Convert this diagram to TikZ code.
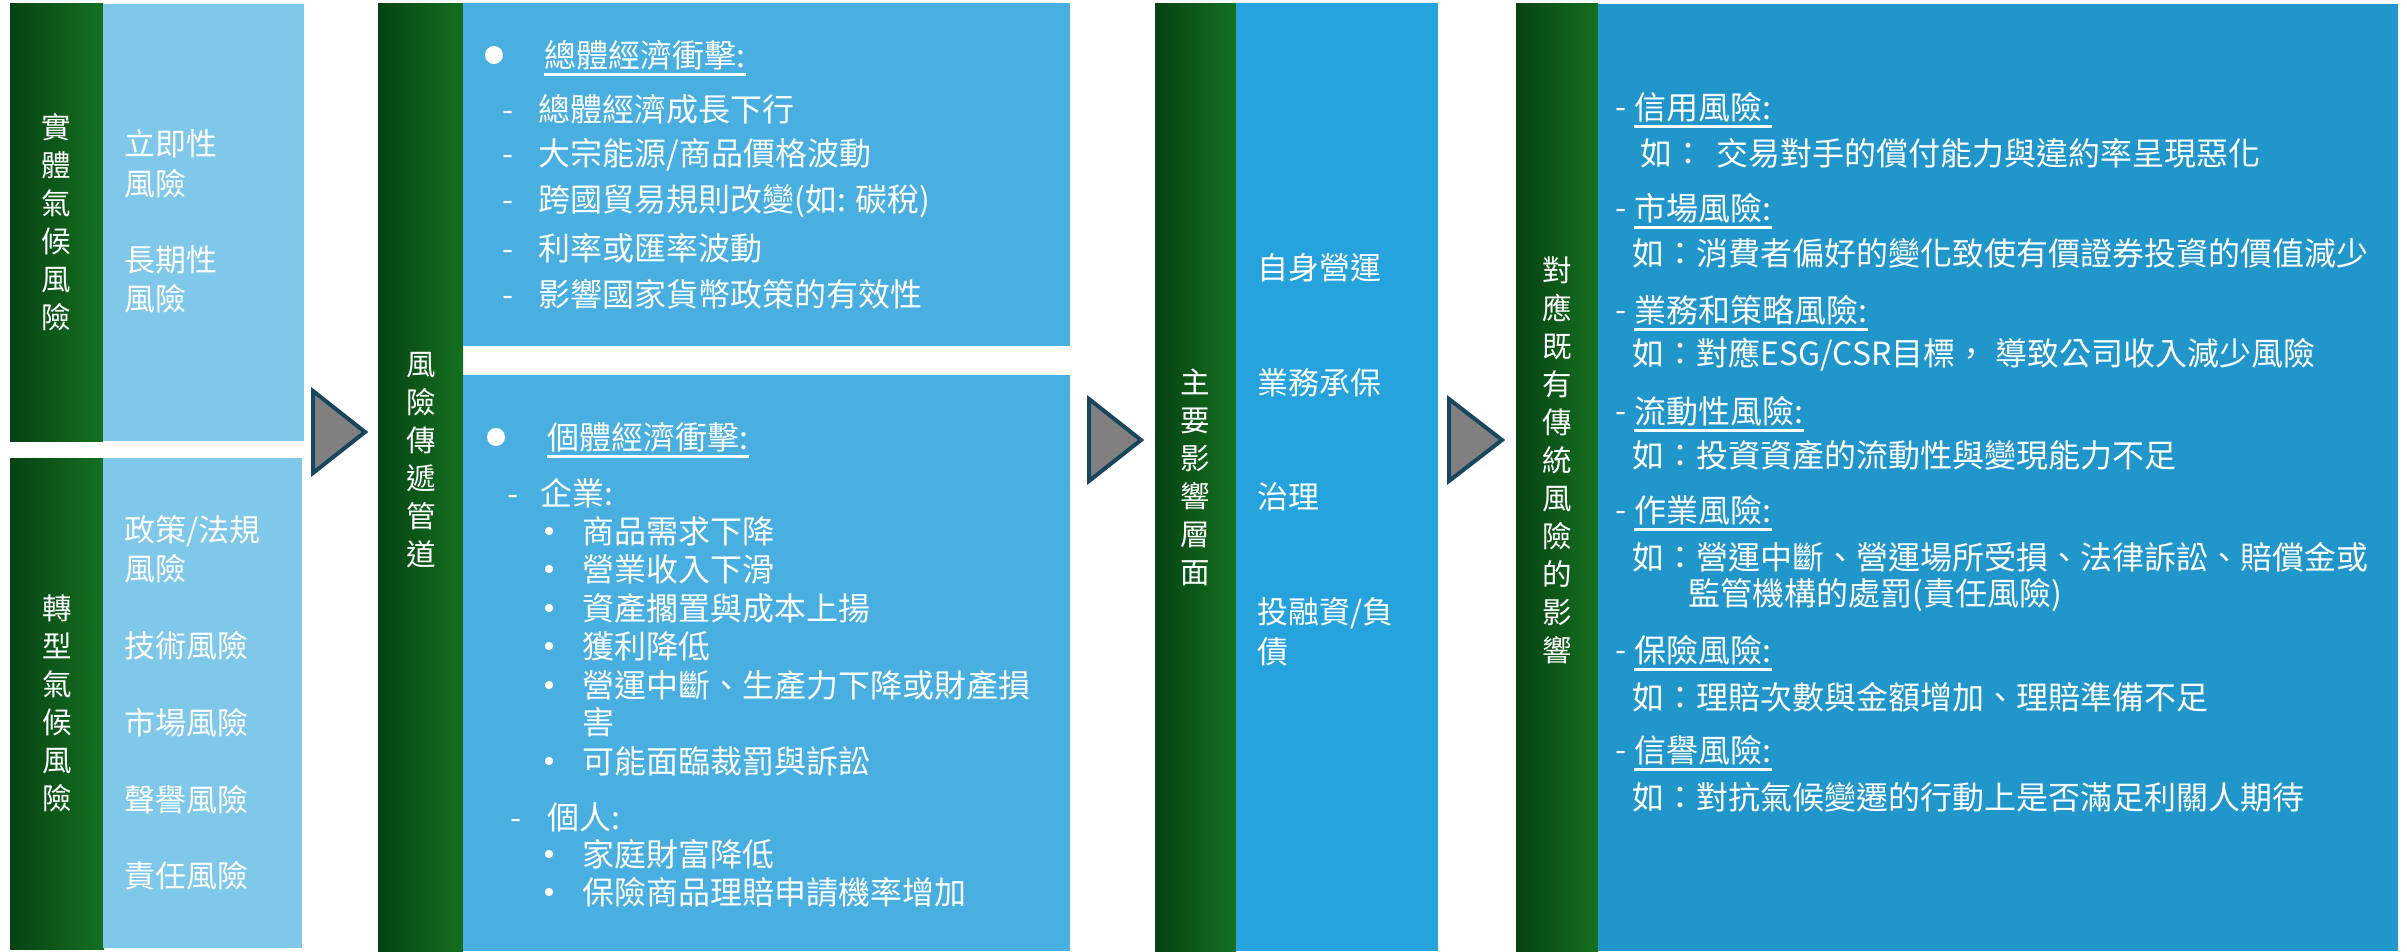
\documentclass[tikz,border=0pt]{standalone}
\usepackage{fontspec}
\newfontfamily\cjk{Noto Sans CJK TC}
\definecolor{gL}{HTML}{064214}
\definecolor{gR}{HTML}{157020}
\definecolor{pA}{HTML}{7FC8E9}
\definecolor{pB}{HTML}{48AFE0}
\definecolor{pC}{HTML}{26A3DC}
\definecolor{pD}{HTML}{2196CB}
\definecolor{triF}{HTML}{808080}
\definecolor{triB}{HTML}{17465E}
\tikzset{
  ta/.style={text=white, inner sep=0pt, anchor=west, font=\cjk\fontsize{8.8pt}{10.6pt}\selectfont},
  tb/.style={text=white, inner sep=0pt, anchor=west, font=\cjk\fontsize{9.1pt}{10.6pt}\selectfont},
  vt/.style={text=white, inner sep=0pt, align=center, font=\cjk\fontsize{8.4pt}{10.81pt}\selectfont},
  gbar/.style={left color=gL, right color=gR},
  tri/.style={fill=triF, draw=triB, line width=0.4mm, line join=miter},
  ul/.style={draw=white, line width=0.3mm},
  bigdot/.style={fill=white, draw=none},
}
\begin{document}
\begin{tikzpicture}[x=0.1mm,y=-0.1mm]
\useasboundingbox (0,0) rectangle (2407,951);
% ---------- panel 1
\shade[gbar] (10,3) rectangle (103,441);
\fill[pA] (103,4) rectangle (304,441);
\shade[gbar] (10,458) rectangle (104,949);
\fill[pA] (103,458) rectangle (302,948);
% ---------- panel 2
\shade[gbar] (378,3) rectangle (463,951);
\fill[pB] (463,3) rectangle (1070,346);
\fill[pB] (463,375) rectangle (1070,951);
% ---------- panel 3
\shade[gbar] (1155,3) rectangle (1236,951);
\fill[pC] (1236,3) rectangle (1438,951);
% ---------- panel 4
\shade[gbar] (1516,3) rectangle (1598,951);
\fill[pD] (1598,4) rectangle (2398,951);
% ---------- arrows
\draw[tri] (313,391) -- (313,473) -- (365,432) -- cycle;
\draw[tri] (1089,399) -- (1089,481) -- (1141,440) -- cycle;
\draw[tri] (1449,399) -- (1449,481) -- (1502,440) -- cycle;
% ---------- vertical titles
\node[vt] (v1) at (56,222) {實\\體\\氣\\候\\風\\險};
\node[vt] (v2) at (57,703) {轉\\型\\氣\\候\\風\\險};
\node[vt] (v3) at (421,460) {風\\險\\傳\\遞\\管\\道};
\node[vt] (v4) at (1195,477) {主\\要\\影\\響\\層\\面};
\node[vt] (v5) at (1557,460) {對\\應\\既\\有\\傳\\統\\風\\險\\的\\影\\響};
% ---------- panel 1 text
\node[ta] (a1) at (124,144) {立即性};
\node[ta] (a2) at (124,184) {風險};
\node[ta] (a3) at (124,260) {長期性};
\node[ta] (a4) at (124,299) {風險};
\node[ta] (b1) at (124,531) {政策/法規};
\node[ta] (b2) at (124,569) {風險};
\node[ta] (b3) at (124,646) {技術風險};
\node[ta] (b4) at (124,723) {市場風險};
\node[ta] (b5) at (124,800) {聲譽風險};
\node[ta] (b6) at (124,876) {責任風險};
% ---------- panel 2 top
\fill[bigdot] (494,55) circle (9);
\node[tb] (m0) at (544,55) {總體經濟衝擊:};
\draw[ul] ([yshift=-1]m0.south west) -- ([yshift=-1]m0.south east);
\node[tb] (m1) at (502,109) {\makebox[3.6mm][l]{-}總體經濟成長下行};
\node[tb] (m2) at (502,155) {\makebox[3.6mm][l]{-}大宗能源/商品價格波動};
\node[tb] (m3) at (502,201) {\makebox[3.6mm][l]{-}跨國貿易規則改變(如: 碳稅)};
\node[tb] (m4) at (502,248) {\makebox[3.6mm][l]{-}利率或匯率波動};
\node[tb] (m5) at (502,294) {\makebox[3.6mm][l]{-}影響國家貨幣政策的有效性};
% ---------- panel 2 bottom
\fill[bigdot] (496,437) circle (9);
\node[tb] (n0) at (547,437) {個體經濟衝擊:};
\draw[ul] ([yshift=-1]n0.south west) -- ([yshift=-1]n0.south east);
\node[tb] (n1) at (507,493) {\makebox[3.3mm][l]{-}企業:};
\foreach \yy/\nm/\tx in {531/n2/商品需求下降, 569/n3/營業收入下滑, 608/n4/資產擱置與成本上揚, 646/n5/獲利降低, 685/n6/營運中斷、生產力下降或財產損, 761/n8/可能面臨裁罰與訴訟, 854/n10/家庭財富降低, 892/n11/保險商品理賠申請機率增加}{
  \fill[bigdot] (549,\yy) circle (4.2);
  \node[tb] (\nm) at (582,\yy) {\tx};
}
\node[tb] (n7) at (582,722) {害};
\node[tb] (n9) at (510,817) {\makebox[3.7mm][l]{-}個人:};
% ---------- panel 3
\node[ta] (c1) at (1257,268) {自身營運};
\node[ta] (c2) at (1257,383) {業務承保};
\node[ta] (c3) at (1257,497) {治理};
\node[ta] (c4) at (1257,613) {投融資/負};
\node[ta] (c5) at (1257,652) {債};
% ---------- panel 4
\foreach \yy/\nm/\tx in {107/r1/信用風險:, 208/r2/市場風險:, 310/r3/業務和策略風險:, 411/r4/流動性風險:, 510/r5/作業風險:, 650/r6/保險風險:, 750/r7/信譽風險:}{
  \node[tb] (\nm d) at (1615,\yy) {-\vphantom{國}};
  \node[tb] (\nm) at (1634,\yy) {\tx};
  \draw[ul] ([yshift=-1]\nm.south west) -- ([yshift=-1]\nm.south east);
}
\node[tb] (e1) at (1640,153) {如：\hspace{1.2mm}交易對手的償付能力與違約率呈現惡化};
\node[tb] (e2) at (1632,253) {如：消費者偏好的變化致使有價證券投資的價值減少};
\node[tb] (e3) at (1632,355) {如：對應ESG/CSR目標，\hspace{0.8mm}導致公司收入減少風險};
\node[tb] (e4) at (1632,455) {如：投資資產的流動性與變現能力不足};
\node[tb] (e5) at (1632,557) {如：營運中斷、營運場所受損、法律訴訟、賠償金或};
\node[tb] (e5b) at (1688,595) {監管機構的處罰(責任風險)};
\node[tb] (e6) at (1632,697) {如：理賠次數與金額增加、理賠準備不足};
\node[tb] (e7) at (1632,797) {如：對抗氣候變遷的行動上是否滿足利關人期待};
\end{tikzpicture}
\end{document}
